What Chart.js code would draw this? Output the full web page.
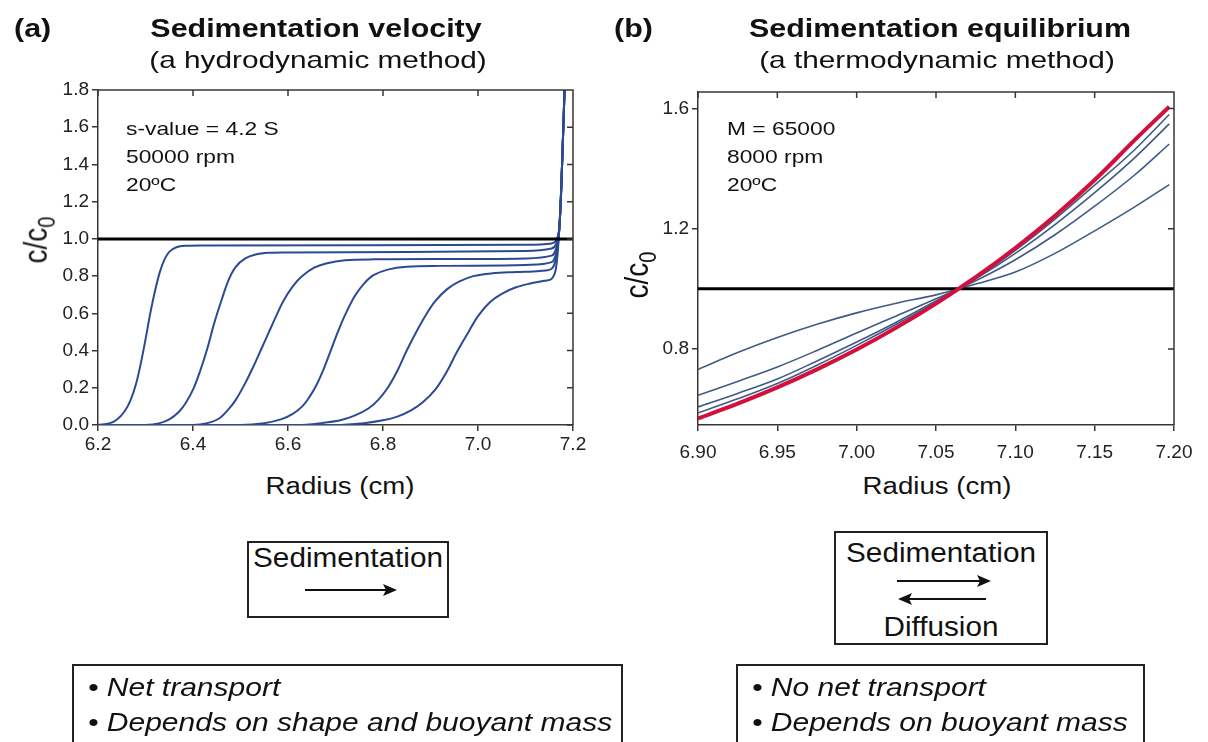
<!DOCTYPE html>
<html>
<head>
<meta charset="utf-8">
<script src="https://cdn.jsdelivr.net/npm/chart.js@4.4.1/dist/chart.umd.min.js"></script>
<style>
  body { margin: 0; width: 1208px; height: 742px; overflow: hidden; position: relative; background: #fff;
         font-family: "Liberation Sans", Arial, sans-serif; color: #111; }
  .abs { position: absolute; white-space: nowrap; line-height: 1; }
  .wide { transform: scaleX(1.2); transform-origin: 0 0; }
  .mid { transform: translateX(-50%) scaleX(1.2); }
  .box { position: absolute; border: 2px solid #222; box-sizing: border-box; }
  .rot { transform: translate(-50%, -50%) rotate(-90deg) scaleY(1.2); }
  canvas { position: absolute; top: 0; }
</style>
</head>
<body>
<canvas id="velChart" width="600" height="470" style="left:0"></canvas>
<canvas id="eqChart" width="608" height="470" style="left:600px"></canvas>

<!-- titles -->
<div class="abs" style="left:14px;top:15px;font-size:26px;font-weight:bold;transform:scaleX(1.17);transform-origin:0 0">(a)</div>
<div class="abs" style="left:316px;top:15px;font-size:26px;font-weight:bold;transform:translateX(-50%) scaleX(1.17)">Sedimentation velocity</div>
<div class="abs" style="left:318px;top:48px;font-size:24px;transform:translateX(-50%) scaleX(1.24)">(a hydrodynamic method)</div>
<div class="abs" style="left:614px;top:15px;font-size:26px;font-weight:bold;transform:scaleX(1.17);transform-origin:0 0">(b)</div>
<div class="abs" style="left:940px;top:15px;font-size:26px;font-weight:bold;transform:translateX(-50%) scaleX(1.17)">Sedimentation equilibrium</div>
<div class="abs" style="left:937px;top:48px;font-size:24px;transform:translateX(-50%) scaleX(1.24)">(a thermodynamic method)</div>

<!-- run conditions -->
<div class="abs wide" style="left:126px;top:119px;font-size:19px">s-value = 4.2 S</div>
<div class="abs wide" style="left:126px;top:147px;font-size:19px">50000 rpm</div>
<div class="abs wide" style="left:126px;top:175px;font-size:19px">20ºC</div>
<div class="abs wide" style="left:727px;top:119px;font-size:19px">M = 65000</div>
<div class="abs wide" style="left:727px;top:147px;font-size:19px">8000 rpm</div>
<div class="abs wide" style="left:727px;top:175px;font-size:19px">20ºC</div>

<!-- axis titles -->
<div class="abs mid" style="left:340px;top:475px;font-size:23px">Radius (cm)</div>
<div class="abs mid" style="left:937px;top:475px;font-size:23px">Radius (cm)</div>
<div class="abs rot" style="left:36px;top:240px;font-size:28px">c/c<span style="font-size:0.72em;position:relative;top:0.35em">0</span></div>
<div class="abs rot" style="left:637px;top:275px;font-size:28px">c/c<span style="font-size:0.72em;position:relative;top:0.35em">0</span></div>

<!-- process boxes -->
<div class="box" style="left:247px;top:541px;width:202px;height:77px"></div>
<div class="abs" style="left:348px;top:545px;font-size:27px;transform:translateX(-50%) scaleX(1.1)">Sedimentation</div>
<div class="box" style="left:834px;top:531px;width:214px;height:114px"></div>
<div class="abs" style="left:941px;top:540px;font-size:27px;transform:translateX(-50%) scaleX(1.1)">Sedimentation</div>
<div class="abs" style="left:941px;top:614px;font-size:27px;transform:translateX(-50%) scaleX(1.1)">Diffusion</div>
<svg class="abs" style="left:0;top:0" width="1208" height="742">
  <line x1="305" y1="590" x2="386" y2="590" stroke="#111" stroke-width="2"/>
  <polygon points="397,590 383,584 386,590 383,596" fill="#111"/>
  <line x1="897" y1="581" x2="980" y2="581" stroke="#111" stroke-width="2"/>
  <polygon points="991,581 977,575 980,581 977,587" fill="#111"/>
  <line x1="909" y1="599" x2="986" y2="599" stroke="#111" stroke-width="2"/>
  <polygon points="898,599 912,593 909,599 912,605" fill="#111"/>
</svg>

<!-- summary boxes -->
<div class="box" style="left:72px;top:664px;width:551px;height:100px"></div>
<div class="abs wide" style="left:88px;top:675px;font-size:25px;font-style:italic">• Net transport</div>
<div class="abs wide" style="left:88px;top:710px;font-size:25px;font-style:italic">• Depends on shape and buoyant mass</div>
<div class="box" style="left:736px;top:664px;width:409px;height:100px"></div>
<div class="abs wide" style="left:752px;top:675px;font-size:25px;font-style:italic">• No net transport</div>
<div class="abs wide" style="left:752px;top:710px;font-size:25px;font-style:italic">• Depends on buoyant mass</div>

<script>
// (a) sedimentation velocity scans: radius (cm) and c/c0
const scan1Radius = [6.20, 6.225, 6.24, 6.255, 6.268, 6.28, 6.29, 6.30, 6.31, 6.32, 6.33, 6.34, 6.35, 6.365, 6.385, 6.42, 7.10, 7.155, 7.164, 7.171, 7.177, 7.184];
const scan1Conc   = [0.0, 0.01, 0.03, 0.07, 0.13, 0.22, 0.33, 0.46, 0.60, 0.72, 0.82, 0.89, 0.93, 0.955, 0.963, 0.965, 0.968, 0.975, 0.99, 1.05, 1.40, 1.95];
const scan2Radius = [6.20, 6.30, 6.33, 6.35, 6.37, 6.385, 6.40, 6.415, 6.43, 6.445, 6.46, 6.475, 6.49, 6.51, 6.53, 6.56, 6.60, 7.10, 7.155, 7.164, 7.171, 7.177, 7.184];
const scan2Conc   = [0.0, 0.0, 0.01, 0.03, 0.07, 0.12, 0.19, 0.29, 0.41, 0.55, 0.67, 0.78, 0.85, 0.895, 0.915, 0.925, 0.927, 0.935, 0.948, 0.97, 1.05, 1.40, 1.95];
const scan3Radius = [6.20, 6.40, 6.43, 6.455, 6.475, 6.49, 6.51, 6.53, 6.545, 6.56, 6.575, 6.59, 6.61, 6.63, 6.655, 6.68, 6.72, 6.78, 7.10, 7.155, 7.164, 7.171, 7.177, 7.184];
const scan3Conc   = [0.0, 0.0, 0.01, 0.035, 0.085, 0.135, 0.225, 0.33, 0.415, 0.50, 0.585, 0.665, 0.745, 0.80, 0.845, 0.868, 0.885, 0.89, 0.895, 0.91, 0.945, 1.05, 1.40, 1.95];
const scan4Radius = [6.20, 6.50, 6.55, 6.585, 6.61, 6.63, 6.645, 6.66, 6.675, 6.69, 6.705, 6.72, 6.74, 6.76, 6.78, 6.81, 6.85, 6.92, 7.10, 7.155, 7.164, 7.171, 7.177, 7.184];
const scan4Conc   = [0.0, 0.0, 0.01, 0.03, 0.06, 0.10, 0.15, 0.215, 0.30, 0.40, 0.50, 0.59, 0.69, 0.76, 0.805, 0.835, 0.85, 0.855, 0.86, 0.875, 0.92, 1.05, 1.40, 1.95];
const scan5Radius = [6.20, 6.62, 6.67, 6.71, 6.74, 6.77, 6.79, 6.81, 6.83, 6.85, 6.87, 6.89, 6.91, 6.935, 6.96, 6.99, 7.03, 7.08, 7.13, 7.155, 7.164, 7.171, 7.177, 7.184];
const scan5Conc   = [0.0, 0.0, 0.01, 0.025, 0.05, 0.09, 0.135, 0.20, 0.29, 0.40, 0.50, 0.59, 0.665, 0.73, 0.77, 0.80, 0.815, 0.822, 0.828, 0.84, 0.895, 1.05, 1.40, 1.95];
const scan6Radius = [6.20, 6.70, 6.76, 6.80, 6.83, 6.86, 6.885, 6.91, 6.935, 6.955, 6.98, 7.00, 7.025, 7.05, 7.08, 7.11, 7.14, 7.155, 7.164, 7.171, 7.177, 7.184];
const scan6Conc   = [0.0, 0.0, 0.01, 0.025, 0.045, 0.08, 0.125, 0.19, 0.29, 0.39, 0.50, 0.585, 0.66, 0.705, 0.74, 0.76, 0.775, 0.785, 0.84, 1.05, 1.40, 1.95];
const velTicksX = [6.2, 6.4, 6.6, 6.8, 7.0, 7.2];
const velTicksY = [0, 0.2, 0.4, 0.6, 0.8, 1.0, 1.2, 1.4, 1.6, 1.8];

// (b) approach to sedimentation equilibrium
const eqRadius = [6.90, 6.925, 6.95, 6.975, 7.00, 7.025, 7.05, 7.075, 7.10, 7.125, 7.15, 7.175, 7.197];
const eqScanA  = [0.732, 0.788, 0.838, 0.882, 0.920, 0.952, 0.980, 1.016, 1.056, 1.118, 1.193, 1.272, 1.347];
const eqScanB  = [0.646, 0.692, 0.740, 0.795, 0.853, 0.910, 0.967, 1.027, 1.097, 1.180, 1.275, 1.378, 1.482];
const eqScanC  = [0.607, 0.652, 0.700, 0.760, 0.823, 0.889, 0.960, 1.033, 1.118, 1.214, 1.320, 1.435, 1.549];
const eqScanD  = [0.587, 0.634, 0.685, 0.746, 0.812, 0.882, 0.956, 1.035, 1.128, 1.232, 1.345, 1.462, 1.580];
const eqFinal  = [0.569, 0.618, 0.672, 0.732, 0.798, 0.871, 0.951, 1.039, 1.136, 1.243, 1.362, 1.494, 1.606];
const eqTicksX = [6.90, 6.95, 7.00, 7.05, 7.10, 7.15, 7.20];
const eqTicksY = [0.8, 1.2, 1.6];

const AXIS = '#3b3630';
const BLUE_A = '#2c4a94';
const BLUE_B = '#3e5a86';
const RED = '#d3103c';

function line(xs, ys, color, width, smooth) {
  const ds = {
    data: xs.map((x, i) => ({ x: x, y: ys[i] })),
    borderColor: color,
    borderWidth: width,
    pointRadius: 0,
    fill: false
  };
  if (smooth === 'monotone') ds.cubicInterpolationMode = 'monotone';
  else if (smooth) ds.tension = smooth;
  return ds;
}

function makeScale(min, max, tickVals, digits, size, pad) {
  return {
    type: 'linear',
    min: min,
    max: max,
    afterBuildTicks: s => { s.ticks = tickVals.map(v => ({ value: v })); },
    afterFit: s => { if (s.isHorizontal()) s.height = size; else s.width = size; },
    ticks: {
      callback: v => Number(v).toFixed(digits),
      font: { family: 'Liberation Sans', size: 19 },
      color: '#222',
      padding: pad,
      autoSkip: false,
      maxRotation: 0
    },
    grid: { drawOnChartArea: false, tickLength: 6, color: AXIS, lineWidth: 1.5 },
    border: { color: AXIS, width: 1.5 }
  };
}

// top and right frame with ticks pointing inside
const framePlugin = {
  id: 'frame',
  afterDraw(chart) {
    const { ctx, chartArea: a, scales } = chart;
    ctx.save();
    ctx.strokeStyle = AXIS;
    ctx.lineWidth = 1.5;
    ctx.beginPath();
    ctx.moveTo(a.left, a.top);
    ctx.lineTo(a.right, a.top);
    ctx.lineTo(a.right, a.bottom);
    scales.x.ticks.forEach(t => {
      const px = scales.x.getPixelForValue(t.value);
      ctx.moveTo(px, a.top);
      ctx.lineTo(px, a.top + 6);
    });
    scales.y.ticks.forEach(t => {
      const py = scales.y.getPixelForValue(t.value);
      ctx.moveTo(a.right, py);
      ctx.lineTo(a.right - 6, py);
    });
    ctx.stroke();
    ctx.restore();
  }
};

function baseOptions(padding, xScale, yScale) {
  return {
    responsive: false,
    animation: false,
    layout: { padding: padding },
    plugins: { legend: { display: false }, tooltip: { enabled: false } },
    scales: { x: xScale, y: yScale }
  };
}

new Chart(document.getElementById('velChart'), {
  type: 'line',
  data: {
    datasets: [
      line([6.2, 7.2], [1, 1], '#000', 3, 0),
      line(scan1Radius, scan1Conc, BLUE_A, 2, 0.35),
      line(scan2Radius, scan2Conc, BLUE_A, 2, 0.35),
      line(scan3Radius, scan3Conc, BLUE_A, 2, 0.35),
      line(scan4Radius, scan4Conc, BLUE_A, 2, 0.35),
      line(scan5Radius, scan5Conc, BLUE_A, 2, 0.35),
      line(scan6Radius, scan6Conc, BLUE_A, 2, 0.35)
    ]
  },
  options: baseOptions({ left: 58, right: 27, top: 90, bottom: 10 },
    makeScale(6.2, 7.2, velTicksX, 1, 35, 2),
    makeScale(0, 1.8, velTicksY, 1, 40, 3)),
  plugins: [framePlugin]
});

new Chart(document.getElementById('eqChart'), {
  type: 'line',
  data: {
    datasets: [
      line(eqRadius, eqFinal, RED, 4, 'monotone'),
      line([6.9, 7.2], [1, 1], '#000', 3, 0),
      line(eqRadius, eqScanD, BLUE_B, 1.6, 'monotone'),
      line(eqRadius, eqScanC, BLUE_B, 1.6, 'monotone'),
      line(eqRadius, eqScanB, BLUE_B, 1.6, 'monotone'),
      line(eqRadius, eqScanA, BLUE_B, 1.6, 'monotone')
    ]
  },
  options: baseOptions({ left: 58, right: 34, top: 92, bottom: 10 },
    makeScale(6.9, 7.2, eqTicksX, 2, 35, 10),
    makeScale(0.547, 1.655, eqTicksY, 1, 40, 3)),
  plugins: [framePlugin]
});
</script>
</body>
</html>
